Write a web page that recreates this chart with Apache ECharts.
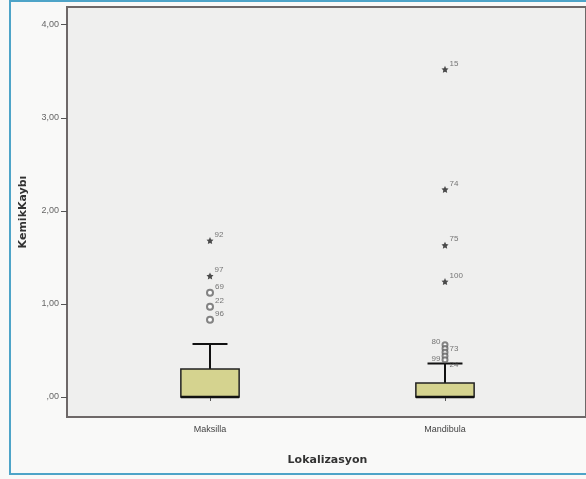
<!DOCTYPE html>
<html>
<head>
<meta charset="utf-8">
<script src="https://cdn.jsdelivr.net/npm/echarts@6/dist/echarts.min.js"></script>
<style>
html,body{margin:0;padding:0;background:#f9f9f8;}
#c{width:586px;height:479px;}
</style>
</head>
<body>
<div id="c"></div>
<script>
// ---- data ----
const categories = ['Maksilla', 'Mandibula'];
// [lower whisker, Q1, median, Q3, upper whisker]
const boxMaksilla = [0, 0, 0, 0.30, 0.57];
const boxMandibula = [0, 0, 0, 0.15, 0.36];
// extreme values (asterisks): [category, value, case id]
const extremesMaksilla = [[0, 1.68, '92'], [0, 1.30, '97']];
const extremesMandibula = [[1, 3.52, '15'], [1, 2.23, '74'], [1, 1.63, '75'], [1, 1.24, '100']];
// outliers (circles): [category, value, case id]
const outliersMaksilla = [[0, 1.12, '69'], [0, 0.97, '22'], [0, 0.83, '96']];
const outliersMandibula = [[1, 0.56, '80'], [1, 0.52, '73'], [1, 0.48, ''], [1, 0.44, '99'], [1, 0.40, '24']];
const yTickValues = [0, 1, 2, 3, 4];
const yTickLabels = [',00', '1,00', '2,00', '3,00', '4,00'];
const yMin = -0.215, yMax = 4.19;

const chart = echarts.init(document.getElementById('c'));

const boxData = [[0].concat(boxMaksilla), [1].concat(boxMandibula)];

const labelRight = {show: true, position: 'right', distance: 1, offset: [0, -6], fontSize: 8, color: '#555', fontFamily: 'Liberation Sans'};
const mandOutData = outliersMandibula.map((d) => {
  const item = {value: [d[0], d[1]], name: d[2]};
  if (d[2] === '80' || d[2] === '99') {
    item.label = {position: 'left', distance: 1, offset: [0, d[2] === '80' ? -3 : 3]};
  } else if (d[2] === '24') {
    item.label = {position: 'right', distance: 1, offset: [0, 5]};
  } else {
    item.label = {position: 'right', distance: 1, offset: [0, 0]};
  }
  return item;
});

const starPath = 'path://M0,-10 L2.9,-4 9.5,-3.1 4.7,1.5 5.9,8.1 0,5 -5.9,8.1 -4.7,1.5 -9.5,-3.1 -2.9,-4Z';

chart.setOption({
  animation: false,
  backgroundColor: '#f9f9f8',
  graphic: [{
    type: 'rect', silent: true, z: 100,
    shape: {x: 10, y: 1, width: 700, height: 473},
    style: {fill: 'none', stroke: '#4ea4c8', lineWidth: 2}
  }],
  grid: [
    {left: 67, right: -10, top: 7, bottom: 62, show: true, backgroundColor: '#efefee', borderColor: '#6e6868', borderWidth: 2, containLabel: false},
    {left: 92.5, right: 23.5, top: 7, bottom: 62, containLabel: false}
  ],
  xAxis: [
    {gridIndex: 0, type: 'value', min: 0, max: 1, show: false},
    {gridIndex: 1, type: 'category', data: categories, boundaryGap: true,
     axisLine: {show: false},
     axisTick: {show: true, alignWithLabel: true, length: 4, lineStyle: {color: '#555', width: 1}},
     axisLabel: {fontSize: 9, color: '#444', margin: 8, fontFamily: 'Liberation Sans'},
     name: 'Lokalizasyon', nameLocation: 'middle', nameGap: 38,
     nameTextStyle: {fontSize: 11, fontWeight: 'bold', color: '#333', fontFamily: 'DejaVu Sans'}}
  ],
  yAxis: [
    {gridIndex: 0, type: 'value', min: yMin, max: yMax,
     axisLine: {show: true, lineStyle: {color: '#6e6868', width: 2}},
     axisTick: {show: true, length: 6, customValues: yTickValues, lineStyle: {color: '#555', width: 1}},
     axisLabel: {customValues: yTickValues, fontSize: 9, color: '#666', margin: 8, fontFamily: 'Liberation Sans',
       formatter: v => yTickLabels[yTickValues.indexOf(Math.round(v))]},
     splitLine: {show: false},
     name: 'KemikKaybı', nameLocation: 'middle', nameGap: 38,
     nameTextStyle: {fontSize: 11, fontWeight: 'bold', color: '#333', fontFamily: 'DejaVu Sans'}},
    {gridIndex: 1, type: 'value', min: yMin, max: yMax, show: false, splitLine: {show: false}}
  ],
  series: [
    {
      type: 'custom', xAxisIndex: 1, yAxisIndex: 1, data: boxData,
      encode: {x: 0, y: [1, 2, 3, 4, 5]},
      renderItem: function (params, api) {
        const c = api.value(0);
        const lo = api.coord([c, api.value(1)]);
        const q1 = api.coord([c, api.value(2)]);
        const med = api.coord([c, api.value(3)]);
        const q3 = api.coord([c, api.value(4)]);
        const hi = api.coord([c, api.value(5)]);
        const band = api.size([1, 0])[0];
        const hw = band * 0.124, cw = hw * 0.6;
        const x = q1[0];
        const lineStyle = {stroke: '#111', lineWidth: 2};
        const children = [
          {type: 'line', shape: {x1: x, y1: q3[1], x2: x, y2: hi[1]}, style: lineStyle},
          {type: 'line', shape: {x1: x - cw, y1: hi[1], x2: x + cw, y2: hi[1]}, style: lineStyle},
          {type: 'rect', shape: {x: x - hw, y: q3[1], width: 2 * hw, height: q1[1] - q3[1]},
           style: {fill: '#d5d38f', stroke: '#222', lineWidth: 1.5}},
          {type: 'line', shape: {x1: x - hw, y1: med[1], x2: x + hw, y2: med[1]}, style: {stroke: '#111', lineWidth: 2.5}}
        ];
        if (lo[1] - q1[1] > 0.5) {
          children.push({type: 'line', shape: {x1: x, y1: q1[1], x2: x, y2: lo[1]}, style: lineStyle});
          children.push({type: 'line', shape: {x1: x - cw, y1: lo[1], x2: x + cw, y2: lo[1]}, style: lineStyle});
        }
        return {type: 'group', children: children};
      }
    },
    {
      type: 'scatter', xAxisIndex: 1, yAxisIndex: 1,
      data: extremesMaksilla.concat(extremesMandibula).map(d => ({value: [d[0], d[1]], name: d[2]})),
      symbol: starPath, symbolSize: 7,
      itemStyle: {color: '#222'},
      label: Object.assign({}, labelRight, {formatter: p => p.name})
    },
    {
      type: 'scatter', xAxisIndex: 1, yAxisIndex: 1,
      data: outliersMaksilla.map(d => ({value: [d[0], d[1]], name: d[2]})),
      symbol: 'emptyCircle', symbolSize: 6,
      itemStyle: {color: '#666', borderColor: '#666', borderWidth: 1},
      label: Object.assign({}, labelRight, {formatter: p => p.name})
    },
    {
      type: 'scatter', xAxisIndex: 1, yAxisIndex: 1,
      data: mandOutData,
      symbol: 'emptyCircle', symbolSize: 5,
      itemStyle: {color: '#666', borderColor: '#666', borderWidth: 1},
      label: {show: true, fontSize: 8, color: '#555', fontFamily: 'Liberation Sans', formatter: p => p.name}
    }
  ]
});
</script>
</body>
</html>
